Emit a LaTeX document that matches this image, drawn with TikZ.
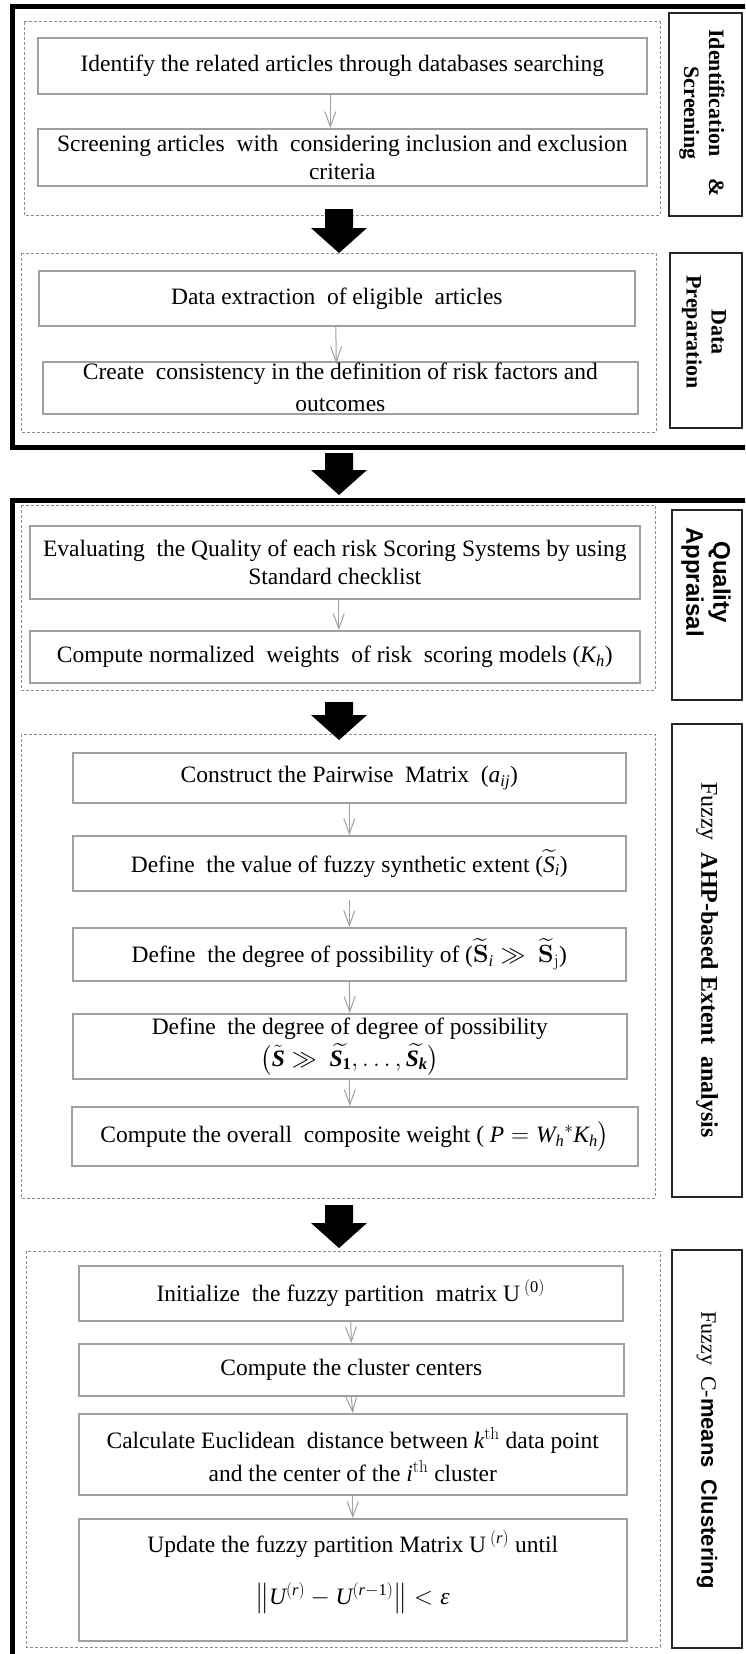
\documentclass[tikz,border=0pt]{standalone}
\usepackage{amsmath}
\usepackage{mathspec}
\setmainfont{Liberation Serif}
\setsansfont{Liberation Sans}
\setmathsfont(Digits,Latin,Greek){Liberation Serif}
\usetikzlibrary{arrows.meta}
\definecolor{boxgray}{RGB}{160,160,160}
\definecolor{dashgray}{RGB}{140,140,140}
\newcommand{\bodyfont}{\fontsize{23.5}{28}\selectfont}
\newcommand{\labfont}{\fontsize{22}{25}\selectfont}
\newcommand{\bSit}{\text{\bfseries\itshape S}}
\newcommand{\bSone}{\text{\bfseries\itshape S}_{\text{\bfseries 1}}}
\newcommand{\bSk}{\text{\bfseries\itshape S}_{\text{\bfseries\itshape k}}}
\newcommand{\blockarrow}[2]{%
  \fill[black] (325,#1) -- (353,#1) -- (353,{#2-25}) -- (367,{#2-25})
    -- (339,#2) -- (311,{#2-25}) -- (325,{#2-25}) -- cycle;}
\tikzset{
  gbox/.style={draw=boxgray, line width=1.6pt, fill=white, inner sep=0pt,
    align=center, font=\bodyfont, anchor=north west},
  dbox/.style={draw=dashgray, line width=1pt, dash pattern=on 3pt off 2pt},
  lbox/.style={draw=black!85, line width=1.8pt},
  outerbox/.style={draw=black, line width=5pt},
  garrow/.style={draw=boxgray, line width=1pt, -{Straight Barb[length=15pt,width=11pt]}},
  labtext/.style={rotate=-90, align=center, font=\labfont, inner sep=0pt}
}
\begin{document}
\begin{tikzpicture}[x=1pt,y=-1pt]
\useasboundingbox (0,0) rectangle (745,1654);
\clip (0,0) rectangle (745,1654);
\fill[white] (0,0) rectangle (745,1654);

% outer thick frames
\draw[outerbox] (12.5,7) rectangle (770,447);
\draw[outerbox] (12.5,500) rectangle (770,1720);

% dashed group frames
\draw[dbox] (24,22) rectangle (660,215);
\draw[dbox] (21,253) rectangle (656,432);
\draw[dbox] (21,505) rectangle (655,690);
\draw[dbox] (21,734) rectangle (655,1198);
\draw[dbox] (26,1251) rectangle (660,1647);

% side labels
\draw[lbox] (669,13) rectangle (742,216);
\draw[lbox] (670,253) rectangle (742,428);
\draw[lbox] (672,510) rectangle (742,700);
\draw[lbox] (672,724) rectangle (742,1197);
\draw[lbox] (672,1250) rectangle (742,1648);
\node[labtext] (T1) at (702,113) {\bfseries Identification\quad \&\\\bfseries Screening};
\node[labtext] (T2) at (704,332) {\bfseries Data\\\bfseries Preparation};
\node[labtext, font=\fontsize{24}{27}\selectfont] (T3) at (706,582) {\sffamily\bfseries Quality\\\sffamily\bfseries Appraisal};
\node[labtext, font=\fontsize{24}{27}\selectfont] (T4) at (707,960) {Fuzzy\ \ \bfseries AHP-based Extent\ \ analysis};
\node[labtext] (T5) at (707,1450) {Fuzzy\ \ C-{\sffamily\bfseries means\ \ Clustering}};

% block arrows between groups
\blockarrow{209}{253}
\blockarrow{453}{495}
\blockarrow{702}{740}
\blockarrow{1205}{1248}

% step boxes
\node[gbox, minimum width=609, minimum height=56] (B1) at (37,37)
  {Identify the related articles through databases searching};
\node[gbox, minimum width=609, minimum height=57] (B2) at (37,128)
  {Screening articles\ \ with\ \ considering inclusion and exclusion\\criteria};
\node[gbox, minimum width=596, minimum height=55] (B3) at (38,270)
  {Data extraction\ \ of eligible\ \ articles};
\node[gbox, minimum width=595, minimum height=52] (B4) at (42,361)
  {Create\ \ consistency in the definition of risk factors and\\[4pt]outcomes};
\node[gbox, minimum width=610, minimum height=73] (B5) at (29,525)
  {Evaluating\ \ the Quality of each risk Scoring Systems by using\\Standard checklist};
\node[gbox, minimum width=610, minimum height=52] (B6) at (29,630)
  {Compute normalized\ \ weights\ \ of risk\ \ scoring models\ ($K_h$)};
\node[gbox, minimum width=553, minimum height=50] (B7) at (72,752)
  {Construct the Pairwise\ \ Matrix\ \ ($a_{ij}$)};
\node[gbox, minimum width=553, minimum height=55] (B8) at (72,835)
  {Define\ \ the value of fuzzy synthetic extent ($\widetilde{S}_i$)};
\node[gbox, minimum width=553, minimum height=53] (B9) at (72,927)
  {Define\ \ the degree of possibility of ($\widetilde{\mathbf{S}}_i \gg\ \widetilde{\mathbf{S}}_{\mathrm{j}}$)};
\node[gbox, minimum width=554, minimum height=65] (B10) at (72,1013)
  {Define\ \ the degree of degree of possibility\\[4pt]
   $\bigl(\tilde{\bSit} \gg\ \widetilde{\bSone},\dots,\widetilde{\bSk}\bigr)$};
\node[gbox, minimum width=566, minimum height=59] (B11) at (71,1106)
  {Compute the overall\ \ composite weight ( $P = W_h{}^*K_h\big)$};
\node[gbox, minimum width=544, minimum height=55] (B12) at (78,1265)
  {Initialize\ \ the fuzzy partition\ \ matrix U\,$^{(0)}$};
\node[gbox, minimum width=545, minimum height=52] (B13) at (78,1343)
  {Compute the cluster centers};
\node[gbox, minimum width=548, minimum height=81] (B14) at (78,1413)
  {Calculate Euclidean\ \ distance between $k^{\mathrm{th}}$ data point\\[5pt]and the center of the $i^{\mathrm{th}}$ cluster};
\node[gbox, minimum width=548, minimum height=122] (B15) at (78,1518)
  {Update the fuzzy partition Matrix U\,$^{(r)}$ until\\[24pt]
   $\left\lVert U^{(r)} - U^{(r-1)}\right\rVert < \epsilon$\\[-4pt]\mbox{}};

% step connectors
\draw[garrow] ([xshift=-12pt]B1.south) -- ([xshift=-12pt]B2.north);
\draw[garrow] ([xshift=-1pt]B3.south) -- ([xshift=-4pt,yshift=-2pt]B4.north);
\draw[garrow] ([xshift=4pt]B5.south) -- ([xshift=4pt]B6.north);
\draw[garrow] (B7.south) -- (B8.north);
\draw[garrow] ([yshift=-8pt]B8.south) -- (B9.north);
\draw[garrow] (B9.south) -- (B10.north);
\draw[garrow] (B10.south) -- ([xshift=-5pt]B11.north);
\draw[garrow] (B12.south) -- (B13.north);
\draw[garrow] (B13.south) -- (B14.north);
\draw[garrow] (B14.south) -- (B15.north);
\end{tikzpicture}
\end{document}
